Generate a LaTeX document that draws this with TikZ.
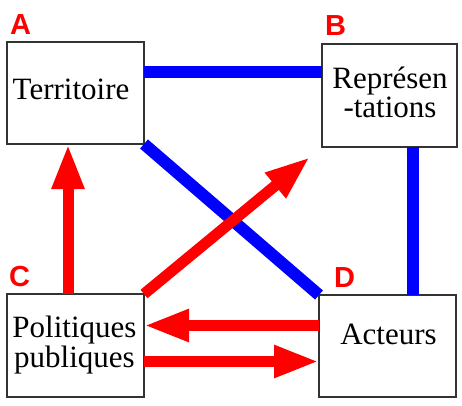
\documentclass[tikz,border=0pt]{standalone}
\usepackage{fontspec}
\setmainfont{Liberation Serif}
\newfontfamily\lblfont{Liberation Sans}
\usetikzlibrary{arrows.meta}
\definecolor{pureblue}{RGB}{0,0,255}
\definecolor{purered}{RGB}{255,0,0}
\tikzset{
  box/.style={draw=black!80, line width=1.5pt, rectangle, inner sep=0pt, outer sep=0pt},
  boxtext/.style={font=\fontsize{31}{23}\selectfont, inner sep=0pt, anchor=base, align=center},
  letter/.style={font=\lblfont\bfseries\fontsize{29}{29}\selectfont, text=purered, inner sep=0pt, anchor=base west},
  bl/.style={draw=pureblue, line width=12pt},
  ra/.style={draw=purered, line width=11pt, -{Triangle[length=45pt,width=30pt]}},
}
\begin{document}
\begin{tikzpicture}[x=1pt,y=-1pt]
\useasboundingbox (0,0) rectangle (462,405);
% boxes
\node[box, minimum width=137pt, minimum height=102pt] (A) at (75.5,93) {};
\node[box, minimum width=135pt, minimum height=103pt] (B) at (389.5,95.5) {};
\node[box, minimum width=137pt, minimum height=103pt] (C) at (75.5,345.5) {};
\node[box, minimum width=137pt, minimum height=102pt] (D) at (387.5,346) {};
% texts (base = baseline of last line)
\node[boxtext] (tA) at (71,99) {Territoire};
\node[boxtext] (tB) at (390,117) {Représen\\-tations};
\node[boxtext] (tC) at (74.5,367) {Politiques\\publiques};
\node[boxtext] (tD) at (388.5,344) {Acteurs};
% letters
\node[letter] (lA) at (10,34) {A};
\node[letter] (lB) at (325,35) {B};
\node[letter] (lC) at (9,286) {C};
\node[letter] (lD) at (334,287) {D};
% blue links
\draw[bl] ([yshift=21pt]A.east) -- ([yshift=21pt]A.east -| B.west);
\draw[bl] ([xshift=23.5pt]B.south) -- ([xshift=23.5pt]B.south |- D.north);
\draw[bl] (A.south east) -- (D.north west);
% red arrows
\coordinate (tipB) at (310,157);
\draw[ra] ([xshift=-7.5pt]C.north) -- ([xshift=-7.5pt]C.north |- A.south);
\draw[ra] (C.north east) -- (tipB);
\draw[ra] ([yshift=20.5pt]D.west) -- ([yshift=20.5pt]D.west -| C.east);
\draw[ra] ([yshift=-16pt]C.east) -- ([yshift=-16pt]C.east -| D.west);
\end{tikzpicture}
\end{document}
